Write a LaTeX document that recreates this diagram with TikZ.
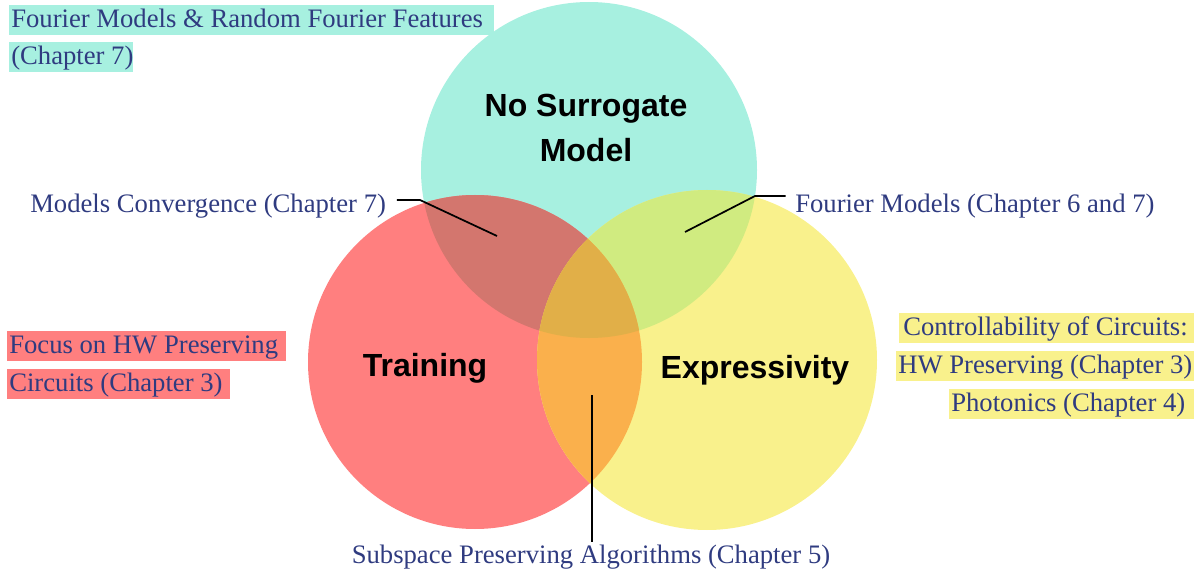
\documentclass[tikz,border=0pt]{standalone}
\usepackage{fontspec}
\setmainfont{Liberation Serif}
\newfontfamily\hdfont{Liberation Sans}
\definecolor{cyanc}{HTML}{A7F0E0}
\definecolor{redc}{HTML}{FF7F7F}
\definecolor{yelc}{HTML}{F9F18C}
\definecolor{rcc}{HTML}{D3766E}
\definecolor{cyc}{HTML}{D0EB80}
\definecolor{ryc}{HTML}{FAB04C}
\definecolor{allc}{HTML}{E1AF48}
\definecolor{txtc}{HTML}{2F3B80}
\newcommand{\hlbox}[2]{\makebox[#1][l]{#2}}
\begin{document}
\begin{tikzpicture}[x=0.75pt,y=-0.75pt,
  lbl/.style={font=\fontsize{20}{24}\selectfont, text=txtc, inner sep=0pt},
  hl/.style={lbl, inner xsep=1.5pt, inner ysep=0pt, text height=17pt, text depth=5.5pt, anchor=north west},
  head/.style={font=\hdfont\bfseries\fontsize{24}{34}\selectfont, text=black, align=center, inner sep=0pt},
  leader/.style={draw=black, line width=1.3pt}]
\useasboundingbox (0,0) rectangle (1200,574);
% circles
\coordinate (cC) at (589,170);
\coordinate (cR) at (475,362);
\coordinate (cY) at (707,360);
\def\rC{126pt}\def\rR{125.25pt}\def\rY{127.5pt}
\fill[cyanc] (cC) circle[radius=\rC];
\fill[redc] (cR) circle[radius=\rR];
\fill[yelc] (cY) circle[radius=\rY];
\begin{scope}
  \clip (cC) circle[radius=\rC];
  \fill[rcc] (cR) circle[radius=\rR];
  \fill[cyc] (cY) circle[radius=\rY];
\end{scope}
\begin{scope}
  \clip (cR) circle[radius=\rR];
  \fill[ryc] (cY) circle[radius=\rY];
\end{scope}
\begin{scope}
  \clip (cC) circle[radius=\rC];
  \clip (cR) circle[radius=\rR];
  \fill[allc] (cY) circle[radius=\rY];
\end{scope}
% headings
\node[head, anchor=base] (nsm) at (586,162) {No Surrogate\\Model};
\node[head, anchor=base] (tr) at (425,376) {Training};
\node[head, anchor=base] (ex) at (755,378) {Expressivity};
% highlighted labels
\node[hl, fill=cyanc] (f1) at (9,5) {\hlbox{360.75pt}{Fourier Models \& Random Fourier Features}};
\node[hl, fill=cyanc] (f2) at (9,42) {\hlbox{90pt}{(Chapter 7)}};
\node[hl, fill=redc] (h1) at (7,331) {\hlbox{206.25pt}{Focus on HW Preserving}};
\node[hl, fill=redc] (h2) at (7,369) {\hlbox{164.25pt}{Circuits (Chapter 3)}};
\node[hl, fill=yelc, inner xsep=3pt] (c1) at (899,313) {\hlbox{215.25pt}{Controllability of Circuits:}};
\node[hl, fill=yelc] (c2) at (896,351) {\hlbox{220.5pt}{HW Preserving (Chapter 3)}};
\node[hl, fill=yelc] (c3) at (949,389) {\hlbox{180.75pt}{Photonics (Chapter 4)}};
% plain labels
\node[lbl, anchor=base west] (mc) at (30,213) {Models Convergence (Chapter 7)};
\node[lbl, anchor=base west] (fm) at (795,213) {Fourier Models (Chapter 6 and 7)};
\node[lbl, anchor=base] (ss) at (591,563) {Subspace Preserving Algorithms (Chapter 5)};
% leaders
\coordinate (mcA) at (420,200);
\coordinate (mcB) at (497,236);
\coordinate (fmA) at (755,196);
\coordinate (fmB) at (685,232);
\coordinate (ssA) at (592,395);
\draw[leader] ([xshift=8pt]mc.east |- mcA) -- (mcA) -- (mcB);
\draw[leader] ([xshift=-7pt]fm.west |- fmA) -- (fmA) -- (fmB);
\draw[leader] ([yshift=2pt]ss.north -| ssA) -- (ssA);
\end{tikzpicture}
\end{document}
